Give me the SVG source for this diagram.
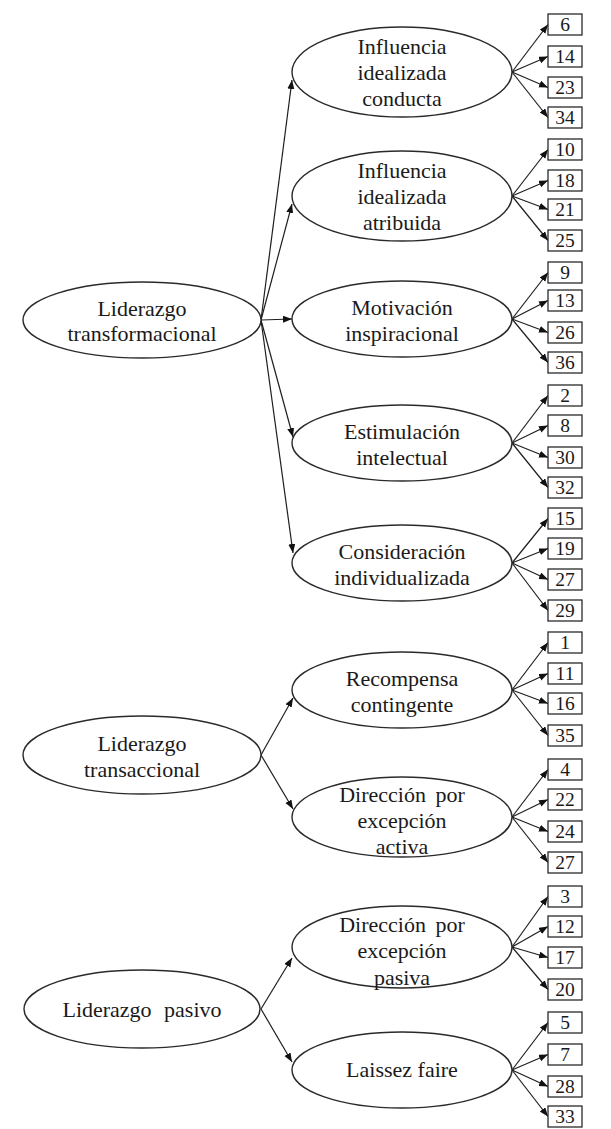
<svg xmlns="http://www.w3.org/2000/svg" width="611" height="1129" viewBox="0 0 611 1129">
<defs>
<marker id="ah" markerWidth="10" markerHeight="8" refX="9" refY="3.5" orient="auto" markerUnits="userSpaceOnUse">
<path d="M0,0 L9,3.5 L0,7 z" fill="#111"/>
</marker>
<style>
.e{fill:#fff;stroke:#2a2a2a;stroke-width:1.4}
.b{fill:#fff;stroke:#2a2a2a;stroke-width:1.3}
.t{font-family:"Liberation Serif","Times New Roman",serif;font-size:22px;fill:#1a1a1a;text-anchor:middle}
.n{font-family:"Liberation Serif","Times New Roman",serif;font-size:19.5px;fill:#1a1a1a;text-anchor:middle}
.c line{stroke:#1e1e1e;stroke-width:1.2;marker-end:url(#ah)}
</style>
</defs>
<rect width="611" height="1129" fill="#fff"/>

<g class="c" id="connectors">
<line x1="261" y1="320" x2="292" y2="80"/>
<line x1="261" y1="320" x2="292" y2="204"/>
<line x1="261" y1="320" x2="292" y2="319"/>
<line x1="261" y1="320" x2="293" y2="437"/>
<line x1="261" y1="320" x2="293" y2="553"/>
<line x1="261" y1="755" x2="293" y2="698"/>
<line x1="261" y1="755" x2="293" y2="809"/>
<line x1="261" y1="1009" x2="292" y2="958"/>
<line x1="261" y1="1009" x2="292" y2="1062"/>
<line x1="512" y1="72" x2="548" y2="24.5"/>
<line x1="512" y1="72" x2="548" y2="56.5"/>
<line x1="512" y1="72" x2="548" y2="87.5"/>
<line x1="512" y1="72" x2="548" y2="117.5"/>
<line x1="512" y1="196" x2="548" y2="149.5"/>
<line x1="512" y1="196" x2="548" y2="180.5"/>
<line x1="512" y1="196" x2="548" y2="209.5"/>
<line x1="512" y1="196" x2="548" y2="240.5"/>
<line x1="512" y1="319" x2="548" y2="272.5"/>
<line x1="512" y1="319" x2="548" y2="300.5"/>
<line x1="512" y1="319" x2="548" y2="332.5"/>
<line x1="512" y1="319" x2="548" y2="362.5"/>
<line x1="512" y1="443" x2="548" y2="395.5"/>
<line x1="512" y1="443" x2="548" y2="425.5"/>
<line x1="512" y1="443" x2="548" y2="457.5"/>
<line x1="512" y1="443" x2="548" y2="487.5"/>
<line x1="512" y1="563" x2="548" y2="518.5"/>
<line x1="512" y1="563" x2="548" y2="548.5"/>
<line x1="512" y1="563" x2="548" y2="579.5"/>
<line x1="512" y1="563" x2="548" y2="610.5"/>
<line x1="512" y1="690" x2="548" y2="642.5"/>
<line x1="512" y1="690" x2="548" y2="673.5"/>
<line x1="512" y1="690" x2="548" y2="703.5"/>
<line x1="512" y1="690" x2="548" y2="735.5"/>
<line x1="512" y1="817" x2="548" y2="769.5"/>
<line x1="512" y1="817" x2="548" y2="799.5"/>
<line x1="512" y1="817" x2="548" y2="831.5"/>
<line x1="512" y1="817" x2="548" y2="862.5"/>
<line x1="512" y1="947" x2="548" y2="896.5"/>
<line x1="512" y1="947" x2="548" y2="926.5"/>
<line x1="512" y1="947" x2="548" y2="957.5"/>
<line x1="512" y1="947" x2="548" y2="989.5"/>
<line x1="512" y1="1070" x2="548" y2="1022.5"/>
<line x1="512" y1="1070" x2="548" y2="1054.5"/>
<line x1="512" y1="1070" x2="548" y2="1086.5"/>
<line x1="512" y1="1070" x2="548" y2="1116.5"/>
</g>

<g id="liderazgo-transformacional">
<ellipse class="e" cx="142" cy="320" rx="119" ry="38"/>
<text class="t" x="142" y="316">Liderazgo</text>
<text class="t" x="142" y="341">transformacional</text>
</g>
<g id="liderazgo-transaccional">
<ellipse class="e" cx="142" cy="755" rx="119" ry="39"/>
<text class="t" x="142" y="751">Liderazgo</text>
<text class="t" x="142" y="777">transaccional</text>
</g>
<g id="liderazgo-pasivo">
<ellipse class="e" cx="142" cy="1009" rx="118" ry="39"/>
<text class="t" x="142" y="1017" style="word-spacing:7px">Liderazgo pasivo</text>
</g>

<g id="influencia-conducta">
<ellipse class="e" cx="402" cy="72" rx="110" ry="45"/>
<text class="t" x="402" y="54">Influencia</text>
<text class="t" x="402" y="80">idealizada</text>
<text class="t" x="402" y="106">conducta</text>
</g>
<g id="influencia-atribuida">
<ellipse class="e" cx="402" cy="196" rx="110" ry="45"/>
<text class="t" x="402" y="178">Influencia</text>
<text class="t" x="402" y="204">idealizada</text>
<text class="t" x="402" y="230">atribuida</text>
</g>
<g id="motivacion">
<ellipse class="e" cx="402" cy="319" rx="110" ry="38"/>
<text class="t" x="402" y="315">Motivación</text>
<text class="t" x="402" y="341">inspiracional</text>
</g>
<g id="estimulacion">
<ellipse class="e" cx="402" cy="443" rx="110" ry="38"/>
<text class="t" x="402" y="439">Estimulación</text>
<text class="t" x="402" y="465">intelectual</text>
</g>
<g id="consideracion">
<ellipse class="e" cx="402" cy="563" rx="110" ry="38"/>
<text class="t" x="402" y="559">Consideración</text>
<text class="t" x="402" y="585">individualizada</text>
</g>
<g id="recompensa">
<ellipse class="e" cx="402" cy="690" rx="110" ry="38"/>
<text class="t" x="402" y="686">Recompensa</text>
<text class="t" x="402" y="712">contingente</text>
</g>
<g id="direccion-activa">
<ellipse class="e" cx="402" cy="817" rx="110" ry="40"/>
<text class="t" x="402" y="802" style="word-spacing:4px">Dirección por</text>
<text class="t" x="402" y="828">excepción</text>
<text class="t" x="402" y="854">activa</text>
</g>
<g id="direccion-pasiva">
<ellipse class="e" cx="402" cy="947" rx="110" ry="41"/>
<text class="t" x="402" y="932" style="word-spacing:4px">Dirección por</text>
<text class="t" x="402" y="958">excepción</text>
<text class="t" x="402" y="985">pasiva</text>
</g>
<g id="laissez-faire">
<ellipse class="e" cx="402" cy="1070" rx="110" ry="38"/>
<text class="t" x="402" y="1077">Laissez faire</text>
</g>

<g id="i6"><rect class="b" x="548" y="14" width="34" height="21"/><text class="n" x="565" y="31">6</text></g>
<g id="i14"><rect class="b" x="548" y="46" width="34" height="21"/><text class="n" x="565" y="63">14</text></g>
<g id="i23"><rect class="b" x="548" y="77" width="34" height="21"/><text class="n" x="565" y="94">23</text></g>
<g id="i34"><rect class="b" x="548" y="107" width="34" height="21"/><text class="n" x="565" y="124">34</text></g>
<g id="i10"><rect class="b" x="548" y="139" width="34" height="21"/><text class="n" x="565" y="156">10</text></g>
<g id="i18"><rect class="b" x="548" y="170" width="34" height="21"/><text class="n" x="565" y="187">18</text></g>
<g id="i21"><rect class="b" x="548" y="199" width="34" height="21"/><text class="n" x="565" y="216">21</text></g>
<g id="i25"><rect class="b" x="548" y="230" width="34" height="21"/><text class="n" x="565" y="247">25</text></g>
<g id="i9"><rect class="b" x="548" y="262" width="34" height="21"/><text class="n" x="565" y="279">9</text></g>
<g id="i13"><rect class="b" x="548" y="290" width="34" height="21"/><text class="n" x="565" y="307">13</text></g>
<g id="i26"><rect class="b" x="548" y="322" width="34" height="21"/><text class="n" x="565" y="339">26</text></g>
<g id="i36"><rect class="b" x="548" y="352" width="34" height="21"/><text class="n" x="565" y="369">36</text></g>
<g id="i2"><rect class="b" x="548" y="385" width="34" height="21"/><text class="n" x="565" y="402">2</text></g>
<g id="i8"><rect class="b" x="548" y="415" width="34" height="21"/><text class="n" x="565" y="432">8</text></g>
<g id="i30"><rect class="b" x="548" y="447" width="34" height="21"/><text class="n" x="565" y="464">30</text></g>
<g id="i32"><rect class="b" x="548" y="477" width="34" height="21"/><text class="n" x="565" y="494">32</text></g>
<g id="i15"><rect class="b" x="548" y="508" width="34" height="21"/><text class="n" x="565" y="525">15</text></g>
<g id="i19"><rect class="b" x="548" y="538" width="34" height="21"/><text class="n" x="565" y="555">19</text></g>
<g id="i27a"><rect class="b" x="548" y="569" width="34" height="21"/><text class="n" x="565" y="586">27</text></g>
<g id="i29"><rect class="b" x="548" y="600" width="34" height="21"/><text class="n" x="565" y="617">29</text></g>
<g id="i1"><rect class="b" x="548" y="632" width="34" height="21"/><text class="n" x="565" y="649">1</text></g>
<g id="i11"><rect class="b" x="548" y="663" width="34" height="21"/><text class="n" x="565" y="680">11</text></g>
<g id="i16"><rect class="b" x="548" y="693" width="34" height="21"/><text class="n" x="565" y="710">16</text></g>
<g id="i35"><rect class="b" x="548" y="725" width="34" height="21"/><text class="n" x="565" y="742">35</text></g>
<g id="i4"><rect class="b" x="548" y="759" width="34" height="21"/><text class="n" x="565" y="776">4</text></g>
<g id="i22"><rect class="b" x="548" y="789" width="34" height="21"/><text class="n" x="565" y="806">22</text></g>
<g id="i24"><rect class="b" x="548" y="821" width="34" height="21"/><text class="n" x="565" y="838">24</text></g>
<g id="i27b"><rect class="b" x="548" y="852" width="34" height="21"/><text class="n" x="565" y="869">27</text></g>
<g id="i3"><rect class="b" x="548" y="886" width="34" height="21"/><text class="n" x="565" y="903">3</text></g>
<g id="i12"><rect class="b" x="548" y="916" width="34" height="21"/><text class="n" x="565" y="933">12</text></g>
<g id="i17"><rect class="b" x="548" y="947" width="34" height="21"/><text class="n" x="565" y="964">17</text></g>
<g id="i20"><rect class="b" x="548" y="979" width="34" height="21"/><text class="n" x="565" y="996">20</text></g>
<g id="i5"><rect class="b" x="548" y="1012" width="34" height="21"/><text class="n" x="565" y="1029">5</text></g>
<g id="i7"><rect class="b" x="548" y="1044" width="34" height="21"/><text class="n" x="565" y="1061">7</text></g>
<g id="i28"><rect class="b" x="548" y="1076" width="34" height="21"/><text class="n" x="565" y="1093">28</text></g>
<g id="i33"><rect class="b" x="548" y="1106" width="34" height="21"/><text class="n" x="565" y="1123">33</text></g>
</svg>
